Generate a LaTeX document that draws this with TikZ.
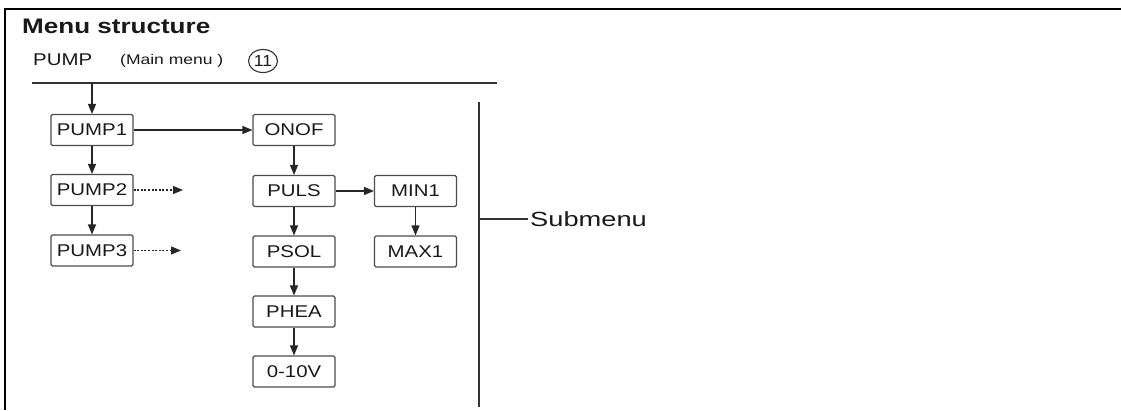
\documentclass[tikz,border=0pt]{standalone}
\usepackage{fontspec,graphicx}
\setmainfont{Liberation Sans}
\usetikzlibrary{arrows.meta,positioning,shapes.geometric}
\newcommand{\wtext}[2][1.2]{\scalebox{#1}[1]{#2}}

\begin{document}
\begin{tikzpicture}[x=1pt,y=-1pt,
 every node/.style={font=\fontsize{17}{20}\selectfont,text=black!90},
 menubox/.style={draw=black!70,line width=1.1pt,rounded corners=1.5pt,minimum width=82pt,minimum height=31pt,inner sep=0pt},
 link/.style={draw=black!85,line width=1.2pt,-{Triangle[length=10pt,width=8pt]}},
 later/.style={link,dash pattern=on 2pt off 1.6pt}]
\useasboundingbox (0,0) rectangle (1121,410);
\draw[line width=2.5pt] (1121,9) -| (5,410);
% heading and main menu line
\node[anchor=base west,inner sep=0pt,font=\bfseries\fontsize{21}{24}\selectfont] (title) at (22,33) {\wtext[1.24]{Menu structure}};
\node[anchor=base west,inner sep=0pt] (main) at (33,65) {\wtext{PUMP}};
\node[anchor=base west,inner sep=0pt,font=\fontsize{14}{16}\selectfont] (mainlbl) at (120,64) {\wtext[1.25]{(Main menu )}};
\node[ellipse,draw=black!80,line width=1.1pt,minimum width=29pt,minimum height=23pt,inner sep=0pt,font=\fontsize{16}{18}\selectfont] (num) at (263,61) {\wtext[1.1]{11}};
\coordinate (ml) at (32,83); \coordinate (mr) at (497,83);
\draw[line width=1.2pt,black!80] (ml) -- (mr);
% menu boxes
\foreach \n/\x/\y/\t in {p1/92/130/PUMP1,p2/92/190/PUMP2,p3/92/250.5/PUMP3,
  onof/294/130/ONOF,puls/294/191/PULS,psol/294/251.5/PSOL,phea/294/311.5/PHEA,volt/294/371.5/0-10V,
  mina/415.5/191/MIN1,maxa/415.5/251.5/MAX1}
  \node[menubox] (\n) at (\x,\y) {\wtext{\t}};
\draw[link] (p1.north |- ml) -- (p1);
\foreach \a/\b in {p1/p2,p2/p3,onof/puls,puls/psol,psol/phea,phea/volt,mina/maxa,p1/onof,puls/mina}
  \draw[link] (\a) -- (\b);
\coordinate (p2end) at (183,190); \coordinate (p3end) at (181,250.5);
\draw[later] (p2) -- (p2end);
\draw[later] (p3) -- (p3end);
% submenu bracket
\coordinate (st) at (479,102); \coordinate (sb) at (479,407);
\draw[line width=1.2pt,black!80] (st) -- (sb);
\node[anchor=west,inner sep=2pt,font=\fontsize{20.5}{24}\selectfont] (sub) at (528,219) {\wtext[1.33]{Submenu}};
\draw[line width=1.2pt,black!80] (st |- sub) -- (sub.west);
\end{tikzpicture}
\end{document}
